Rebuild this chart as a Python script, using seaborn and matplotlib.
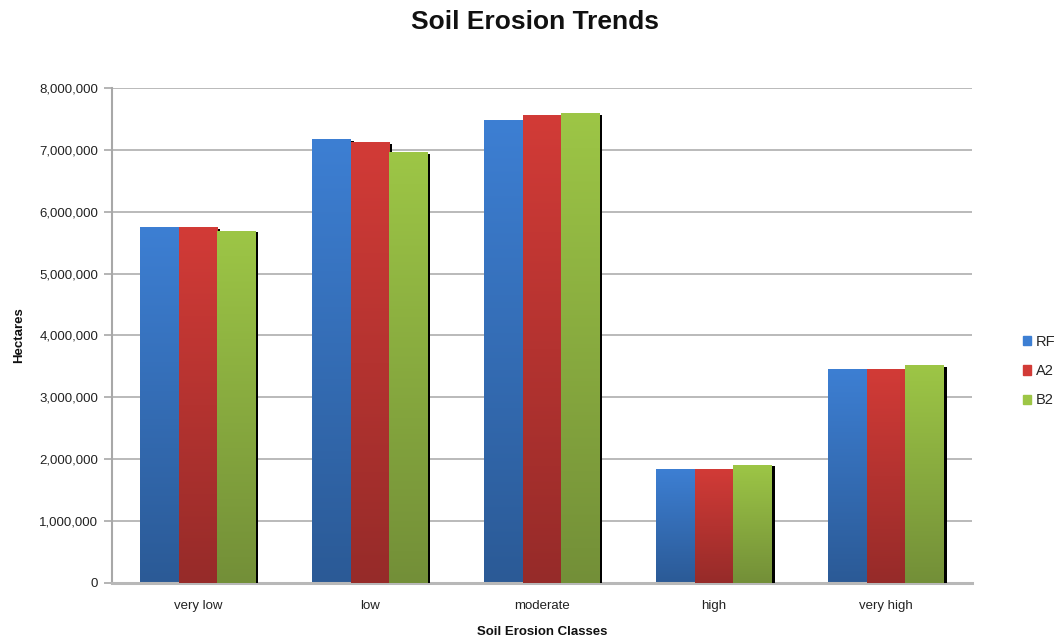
import numpy as np
import pandas as pd
import matplotlib
matplotlib.use("Agg")
import matplotlib.pyplot as plt
import seaborn as sns
from matplotlib.colors import LinearSegmentedColormap
from matplotlib import patheffects as pe
from matplotlib.ticker import FuncFormatter

# Data: area (hectares) per erosion class for each scenario
classes = ["very low", "low", "moderate", "high", "very high"]
series = ["RF", "A2", "B2"]
rf_values = [5750000, 7170000, 7480000, 1840000, 3460000]
a2_values = [5750000, 7120000, 7560000, 1840000, 3460000]
b2_values = [5690000, 6960000, 7590000, 1910000, 3520000]

# Top / bottom colours of the vertical gradient for each series
top_colors = {"RF": "#3D7FD3", "A2": "#D23B37", "B2": "#9DC646"}
bottom_colors = {"RF": "#2B5A96", "A2": "#962B29", "B2": "#738F38"}

df = pd.DataFrame({
    "Class": classes * 3,
    "Series": sum([[s] * len(classes) for s in series], []),
    "Hectares": rf_values + a2_values + b2_values,
})

sns.set_theme(style="white")
plt.rcParams["font.family"] = ["Liberation Sans", "DejaVu Sans"]

fig = plt.figure(figsize=(10.57, 6.41), dpi=100)
ax = fig.add_axes([0.106, 0.0905, 0.8137, 0.7722])

sns.barplot(data=df, x="Class", y="Hectares", hue="Series", order=classes,
            hue_order=series, palette=top_colors, width=0.67, saturation=1,
            errorbar=None, ax=ax, legend=True, linewidth=0)

ax.set_ylim(0, 8000000)
ax.set_xlim(-0.5, len(classes) - 0.5)
ax.yaxis.set_major_formatter(FuncFormatter(lambda v, p: f"{int(v):,}"))
ax.set_yticks(np.arange(0, 8000001, 1000000))

# Gradient fill with a drop shadow on every bar
grad = np.linspace(0, 1, 256).reshape(-1, 1)
bars = [p for p in ax.patches if p.get_height() > 0]
for i, s in enumerate(series):
    cmap = LinearSegmentedColormap.from_list(s, [bottom_colors[s], top_colors[s]])
    for bar in bars[i * len(classes):(i + 1) * len(classes)]:
        x0, y0 = bar.get_x(), bar.get_y()
        w, h = bar.get_width(), bar.get_height()
        bar.set_path_effects([pe.SimplePatchShadow(offset=(2, -1), shadow_rgbFace="black", alpha=1.0),
                              pe.Normal()])
        bar.set_zorder(2 + i)
        im = ax.imshow(grad, extent=(x0, x0 + w, y0, y0 + h), origin="lower",
                       aspect="auto", cmap=cmap, zorder=2.5 + i)
        im.set_clip_path(bar)

ax.set_xlim(-0.5, len(classes) - 0.5)
ax.set_ylim(0, 8000000)

# Gridlines and axes styling
ax.yaxis.grid(True, color="#B4B4B4", linewidth=1.3, zorder=0)
ax.set_axisbelow(True)
for side in ["top", "right"]:
    ax.spines[side].set_visible(False)
ax.spines["left"].set_color("#A8A8A8")
ax.spines["left"].set_linewidth(1.5)
ax.spines["bottom"].set_color("#B8B8B8")
ax.spines["bottom"].set_linewidth(2.2)
ax.tick_params(axis="y", length=6, width=1.2, color="#A8A8A8", left=True,
               labelsize=9.5, labelcolor="#222222", pad=4)
ax.tick_params(axis="x", length=0, labelsize=9.5, labelcolor="#222222", pad=12)

ax.set_ylabel("Hectares", fontsize=9.5, fontweight="bold", color="#111111", labelpad=10)
ax.set_xlabel("Soil Erosion Classes", fontsize=9.5, fontweight="bold", color="#111111", labelpad=10)
fig.suptitle("Soil Erosion Trends", fontsize=19, fontweight="bold", x=0.506, y=0.985,
             color="#111111")

leg = ax.legend(handles=[plt.Rectangle((0, 0), 1, 1, color=top_colors[s]) for s in series],
                labels=series, loc="center left", bbox_to_anchor=(1.052, 0.428),
                frameon=False, fontsize=10.5, handlelength=0.6, handleheight=0.6,
                handletextpad=0.3, labelspacing=1.05, borderaxespad=0)

fig.savefig("out.png", dpi=100)
